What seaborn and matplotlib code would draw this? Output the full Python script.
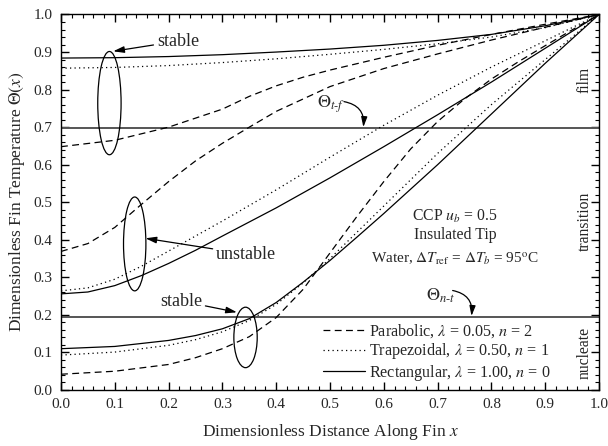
import numpy as np
import pandas as pd
import matplotlib
matplotlib.use("Agg")
import matplotlib.pyplot as plt
from matplotlib.lines import Line2D
from matplotlib.patches import Ellipse
from matplotlib.ticker import MultipleLocator
import seaborn as sns

# ---------------- data ----------------
# Rectangular fin (solid)
x_rect_sh = [0.0, 0.1, 0.2, 0.3, 0.4, 0.5, 0.6, 0.7, 0.8, 0.9, 1.0]
t_rect_sh = [0.884, 0.885, 0.888, 0.893, 0.900, 0.908, 0.918, 0.931, 0.947, 0.970, 1.0]
x_rect_un = [0.0, 0.05, 0.1, 0.15, 0.2, 0.25, 0.3, 0.4, 0.5, 0.6, 0.7, 0.8, 0.9, 1.0]
t_rect_un = [0.256, 0.261, 0.278, 0.305, 0.337, 0.372, 0.410, 0.485, 0.565, 0.648, 0.733, 0.820, 0.910, 1.0]
x_rect_sl = [0.0, 0.1, 0.2, 0.25, 0.3, 0.35, 0.4, 0.45, 0.5, 0.55, 0.6, 0.65, 0.7, 0.8, 0.9, 1.0]
t_rect_sl = [0.110, 0.116, 0.132, 0.145, 0.163, 0.190, 0.233, 0.287, 0.345, 0.407, 0.470, 0.535, 0.600, 0.735, 0.870, 1.0]

# Trapezoidal fin (dotted)
x_trap_sh = [0.0, 0.1, 0.2, 0.3, 0.4, 0.5, 0.6, 0.7, 0.8, 0.9, 1.0]
t_trap_sh = [0.857, 0.859, 0.864, 0.872, 0.882, 0.894, 0.907, 0.922, 0.940, 0.965, 1.0]
x_trap_un = [0.0, 0.05, 0.1, 0.15, 0.2, 0.3, 0.4, 0.5, 0.6, 0.7, 0.8, 0.9, 1.0]
t_trap_un = [0.264, 0.272, 0.295, 0.330, 0.370, 0.450, 0.533, 0.620, 0.705, 0.785, 0.860, 0.930, 1.0]
x_trap_sl = [0.0, 0.1, 0.2, 0.25, 0.3, 0.35, 0.4, 0.45, 0.5, 0.55, 0.6, 0.65, 0.7, 0.8, 0.9, 1.0]
t_trap_sl = [0.093, 0.101, 0.119, 0.134, 0.155, 0.185, 0.228, 0.285, 0.350, 0.420, 0.490, 0.560, 0.630, 0.760, 0.880, 1.0]

# Parabolic fin (dashed)
x_para_sh = [0.0, 0.1, 0.2, 0.3, 0.35, 0.4, 0.45, 0.5, 0.6, 0.7, 0.8, 0.9, 1.0]
t_para_sh = [0.648, 0.665, 0.700, 0.748, 0.782, 0.810, 0.833, 0.852, 0.886, 0.918, 0.947, 0.974, 1.0]
x_para_un = [0.0, 0.05, 0.1, 0.15, 0.2, 0.25, 0.3, 0.35, 0.4, 0.5, 0.6, 0.7, 0.8, 0.9, 1.0]
t_para_un = [0.369, 0.390, 0.433, 0.495, 0.555, 0.610, 0.657, 0.700, 0.742, 0.808, 0.856, 0.895, 0.932, 0.966, 1.0]
x_para_sl = [0.0, 0.1, 0.2, 0.25, 0.3, 0.35, 0.4, 0.45, 0.5, 0.55, 0.6, 0.65, 0.7, 0.75, 0.8, 0.85, 0.9, 0.95, 1.0]
t_para_sl = [0.042, 0.050, 0.068, 0.086, 0.110, 0.142, 0.193, 0.268, 0.365, 0.462, 0.555, 0.642, 0.715, 0.775, 0.828, 0.874, 0.917, 0.959, 1.0]

theta_tf = 0.697
theta_nt = 0.195

legend_labels = [r"Parabolic, $\lambda$ = 0.05, $n$ = 2",
                 r"Trapezoidal, $\lambda$ = 0.50, $n$ = 1",
                 r"Rectangular, $\lambda$ = 1.00, $n$ = 0"]
x_ticks = [0.0, 0.1, 0.2, 0.3, 0.4, 0.5, 0.6, 0.7, 0.8, 0.9, 1.0]
y_ticks = [0.0, 0.1, 0.2, 0.3, 0.4, 0.5, 0.6, 0.7, 0.8, 0.9, 1.0]

# ---------------- style ----------------
sns.set_theme(style="ticks")
plt.rcParams["font.family"] = ["Liberation Serif", "DejaVu Serif"]
plt.rcParams["mathtext.fontset"] = "stix"
plt.rcParams["xtick.direction"] = "in"
plt.rcParams["ytick.direction"] = "in"

fig = plt.figure(figsize=(6.08, 4.46), dpi=100)
ax = fig.add_axes([61 / 608, 1 - 390 / 446, 538 / 608, 375.5 / 446])

LW = 0.9
dash = (0, (5.5, 3.5))
dot = (0, (1, 2.6))

curves = [
    (x_para_sh, t_para_sh, dash), (x_para_un, t_para_un, dash), (x_para_sl, t_para_sl, dash),
    (x_trap_sh, t_trap_sh, dot), (x_trap_un, t_trap_un, dot), (x_trap_sl, t_trap_sl, dot),
    (x_rect_sh, t_rect_sh, "-"), (x_rect_un, t_rect_un, "-"), (x_rect_sl, t_rect_sl, "-"),
]
for xs, ts, ls in curves:
    df = pd.DataFrame({"x": xs, "theta": ts})
    sns.lineplot(data=df, x="x", y="theta", ax=ax, color="black", lw=LW,
                 linestyle=ls, estimator=None, sort=False)

ax.axhline(theta_tf, color="#555555", lw=1.4, zorder=1)
ax.axhline(theta_nt, color="#555555", lw=1.4, zorder=1)

ax.set_xlim(0, 1)
ax.set_ylim(0, 1)
ax.set_xticks(x_ticks)
ax.set_yticks(y_ticks)
ax.set_xticklabels([f"{v:.1f}" for v in x_ticks])
ax.set_yticklabels([f"{v:.1f}" for v in y_ticks])
ax.xaxis.set_minor_locator(MultipleLocator(0.02))
ax.yaxis.set_minor_locator(MultipleLocator(0.02))
ax.tick_params(which="both", direction="in", top=True, right=True, color="black")
ax.tick_params(which="major", length=6, width=1.0, labelsize=11, pad=6)
ax.tick_params(which="minor", length=3, width=0.8)
for s in ax.spines.values():
    s.set_color("black")
    s.set_linewidth(1.0)

ax.set_xlabel(r"Dimensionless Distance Along Fin $x$", fontsize=12.5, labelpad=8)
ax.set_ylabel(r"Dimensionless Fin Temperature $\Theta(x)$", fontsize=12.5, labelpad=5)

# ellipses
for cx, cy, w, h in [(0.09, 0.764, 0.0434, 0.275), (0.137, 0.389, 0.0416, 0.25), (0.343, 0.14, 0.0434, 0.161)]:
    ax.add_patch(Ellipse((cx, cy), w, h, fill=False, ec="black", lw=0.9, zorder=3))

ap = dict(arrowstyle="-|>,head_length=0.5,head_width=0.15", color="black", lw=0.9, shrinkA=0, shrinkB=0)
ax.annotate("stable", xy=(0.097, 0.902), xytext=(0.178, 0.929), fontsize=13,
            va="center", ha="left", arrowprops=ap)
ax.annotate("unstable", xy=(0.157, 0.404), xytext=(0.288, 0.362), fontsize=13,
            va="center", ha="left", arrowprops=ap)
ax.annotate("stable", xy=(0.327, 0.207), xytext=(0.184, 0.237), fontsize=13,
            va="center", ha="left", arrowprops=ap)

apc = dict(arrowstyle="-|>,head_length=0.5,head_width=0.15", color="black", lw=0.9,
           shrinkA=0, shrinkB=0, connectionstyle="arc3,rad=-0.45")
ax.text(0.503, 0.76, r"$\Theta_{t\text{-}f}$", fontsize=13, ha="center", va="center")
ax.annotate("", xy=(0.562, 0.70), xytext=(0.526, 0.768), arrowprops=apc)
ax.text(0.705, 0.25, r"$\Theta_{n\text{-}t}$", fontsize=13, ha="center", va="center")
ax.annotate("", xy=(0.763, 0.197), xytext=(0.728, 0.265), arrowprops=apc)

ax.text(0.732, 0.462, r"CCP $u_b$ = 0.5", fontsize=11.3, ha="center", va="center")
ax.text(0.732, 0.413, "Insulated Tip", fontsize=11.3, ha="center", va="center")
ax.text(0.732, 0.351, r"Water, $\Delta T_{\rm ref}$ = $\Delta T_b$ = 95$^{\rm o}$C", fontsize=11,
        ha="center", va="center")

for txt, yy in [("film", 0.826), ("transition", 0.448), ("nucleate", 0.1)]:
    ax.text(0.973, yy, txt, rotation=90, fontsize=11.3, ha="center", va="center")

handles = [Line2D([], [], color="black", lw=LW, linestyle=dash),
           Line2D([], [], color="black", lw=LW, linestyle=dot),
           Line2D([], [], color="black", lw=LW, linestyle="-")]
ax.legend(handles, legend_labels, loc="lower left", bbox_to_anchor=(0.475, 0.002),
          frameon=False, fontsize=11.6, handlelength=2.6, handletextpad=0.25,
          labelspacing=0.1, borderaxespad=0.0)

fig.savefig("out.png", dpi=100)
